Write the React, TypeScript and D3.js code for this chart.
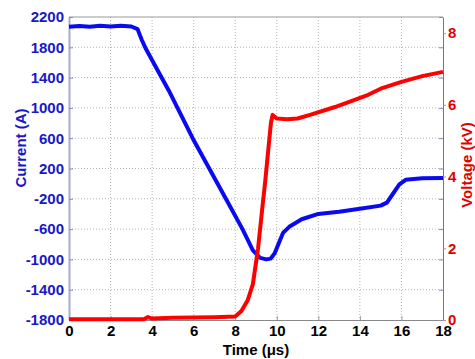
import { useEffect, useRef } from 'react';
import * as d3 from 'd3';

// time (µs) / current (A)
const currentTime = [
  0, 0.5, 1.0, 1.5, 2.0, 2.5, 3.0, 3.3, 3.5, 3.7, 4.0, 4.8, 5.95, 6.75, 7.55, 8.35,
  8.85, 9.2, 9.5, 9.7, 9.9, 10.15, 10.3, 10.6, 11.2, 12, 13, 14, 15, 15.3, 15.6, 15.9,
  16.2, 17, 18,
];
const currentValues = [
  2070, 2080, 2070, 2085, 2075, 2085, 2075, 2040, 1900, 1780, 1630, 1230, 600, 200, -200,
  -600, -880, -980, -1000, -990, -920, -750, -650, -570, -470, -400, -370, -330, -290,
  -250, -130, -10, 50, 70, 75,
];

// time (µs) / voltage (kV)
const voltageTime = [
  0, 3.6, 3.8, 4, 5, 6, 7, 8, 8.3, 8.6, 8.85, 9.0, 9.1, 9.3, 9.45, 9.6, 9.72, 9.8, 10.0,
  10.5, 11.0, 11.6, 12.8, 14.4, 15.0, 16, 17, 18,
];
const voltageValues = [
  0.02, 0.02, 0.08, 0.04, 0.06, 0.07, 0.08, 0.1, 0.25, 0.55, 1.0, 1.6, 2.0, 3.1, 3.9, 4.8,
  5.5, 5.72, 5.62, 5.6, 5.62, 5.72, 5.94, 6.28, 6.45, 6.64, 6.8, 6.92,
];

const timeTicks = [0, 2, 4, 6, 8, 10, 12, 14, 16, 18];
const currentTicks = [-1800, -1400, -1000, -600, -200, 200, 600, 1000, 1400, 1800, 2200];
const voltageTicks = [0, 2, 4, 6, 8];

const FONT = "'Liberation Sans', Arial, sans-serif";
const BLUE_TEXT = '#1818c8';
const RED_TEXT = '#e00000';

export default function App() {
  const svgRef = useRef<SVGSVGElement>(null);

  useEffect(() => {
    if (!svgRef.current) return;
    const svg = d3.select(svgRef.current);
    svg.selectAll('*').remove();

    const left = 69;
    const right = 443;
    const top = 17;
    const bottom = 320;

    const x = d3.scaleLinear().domain([0, 18]).range([left, right]);
    const yI = d3.scaleLinear().domain([-1800, 2200]).range([bottom, top]);
    const yV = d3.scaleLinear().domain([0, 8.45]).range([bottom, top]);

    // grid
    const grid = svg.append('g').attr('stroke', '#b4b4b4').attr('stroke-dasharray', '1 2');
    grid
      .selectAll('line.v')
      .data(timeTicks.slice(1, -1))
      .join('line')
      .attr('x1', (d) => x(d))
      .attr('x2', (d) => x(d))
      .attr('y1', top)
      .attr('y2', bottom);
    grid
      .selectAll('line.h')
      .data(currentTicks.slice(1, -1))
      .join('line')
      .attr('x1', left)
      .attr('x2', right)
      .attr('y1', (d) => yI(d))
      .attr('y2', (d) => yI(d));

    // frame top / bottom
    svg.append('line').attr('x1', left).attr('x2', right).attr('y1', top).attr('y2', top)
      .attr('stroke', '#999');

    const styleText = (
      g: d3.Selection<SVGGElement, unknown, null, undefined>,
      color: string,
    ) => {
      g.selectAll('.tick text')
        .attr('fill', color)
        .attr('font-size', 15)
        .attr('font-weight', 'bold')
        .attr('font-family', FONT);
    };

    // bottom axis
    svg
      .append('g')
      .attr('transform', `translate(0,${bottom})`)
      .call(d3.axisBottom(x).tickValues(timeTicks).tickSizeInner(-4).tickSizeOuter(0).tickPadding(5))
      .call((g) => {
        g.select('.domain').attr('stroke', '#888');
        g.selectAll('.tick line').attr('stroke', '#999');
        styleText(g, '#000');
      });

    // left axis
    svg
      .append('g')
      .attr('transform', `translate(${left},0)`)
      .call(
        d3.axisLeft(yI).tickValues(currentTicks).tickSizeInner(-4).tickSizeOuter(0).tickPadding(5)
          .tickFormat((d) => String(d)),
      )
      .call((g) => {
        g.select('.domain').attr('stroke', '#a8a8d4').attr('stroke-width', 2);
        g.selectAll('.tick line').attr('stroke', '#8888cc');
        styleText(g, BLUE_TEXT);
      });

    // right axis: lavender ticks at current grid, red voltage ticks + labels
    svg
      .append('g')
      .attr('transform', `translate(${right},0)`)
      .call(d3.axisRight(yI).tickValues(currentTicks).tickSizeInner(-4).tickSizeOuter(0).tickFormat(() => ''))
      .call((g) => {
        g.select('.domain').remove();
        g.selectAll('.tick line').attr('stroke', '#8888cc');
      });
    svg
      .append('g')
      .attr('transform', `translate(${right},0)`)
      .call(d3.axisRight(yV).tickValues(voltageTicks).tickSizeInner(3).tickSizeOuter(0).tickPadding(2))
      .call((g) => {
        g.select('.domain').attr('stroke', '#d05050');
        g.selectAll('.tick line').attr('stroke', '#e08080');
        styleText(g, RED_TEXT);
      });

    const currentData = currentTime.map((t, i) => [t, currentValues[i]] as [number, number]);
    const voltageData = voltageTime.map((t, i) => [t, voltageValues[i]] as [number, number]);

    svg
      .append('path')
      .datum(currentData)
      .attr('fill', 'none')
      .attr('stroke', '#0a0af0')
      .attr('stroke-width', 4)
      .attr('stroke-linejoin', 'round')
      .attr('d', d3.line<[number, number]>().x((d) => x(d[0])).y((d) => yI(d[1])));

    svg
      .append('path')
      .datum(voltageData)
      .attr('fill', 'none')
      .attr('stroke', '#ff0000')
      .attr('stroke-width', 4)
      .attr('stroke-linejoin', 'round')
      .attr('d', d3.line<[number, number]>().x((d) => x(d[0])).y((d) => yV(d[1])));

    // axis titles
    svg
      .append('text')
      .attr('transform', `translate(26,148) rotate(-90)`)
      .attr('text-anchor', 'middle')
      .attr('fill', BLUE_TEXT)
      .attr('font-size', 15)
      .attr('font-weight', 'bold')
      .attr('font-family', FONT)
      .text('Current (A)');

    svg
      .append('text')
      .attr('transform', `translate(472,165) rotate(-90)`)
      .attr('text-anchor', 'middle')
      .attr('fill', RED_TEXT)
      .attr('font-size', 15)
      .attr('font-weight', 'bold')
      .attr('font-family', FONT)
      .text('Voltage (kV)');

    svg
      .append('text')
      .attr('x', (left + right) / 2)
      .attr('y', 355)
      .attr('text-anchor', 'middle')
      .attr('fill', '#000')
      .attr('font-size', 15)
      .attr('font-weight', 'bold')
      .attr('font-family', FONT)
      .text('Time (\u03bcs)');
  }, []);

  return (
    <svg
      ref={svgRef}
      width={475}
      height={359}
      style={{ position: 'absolute', left: 0, top: 0, background: '#fff' }}
    />
  );
}
